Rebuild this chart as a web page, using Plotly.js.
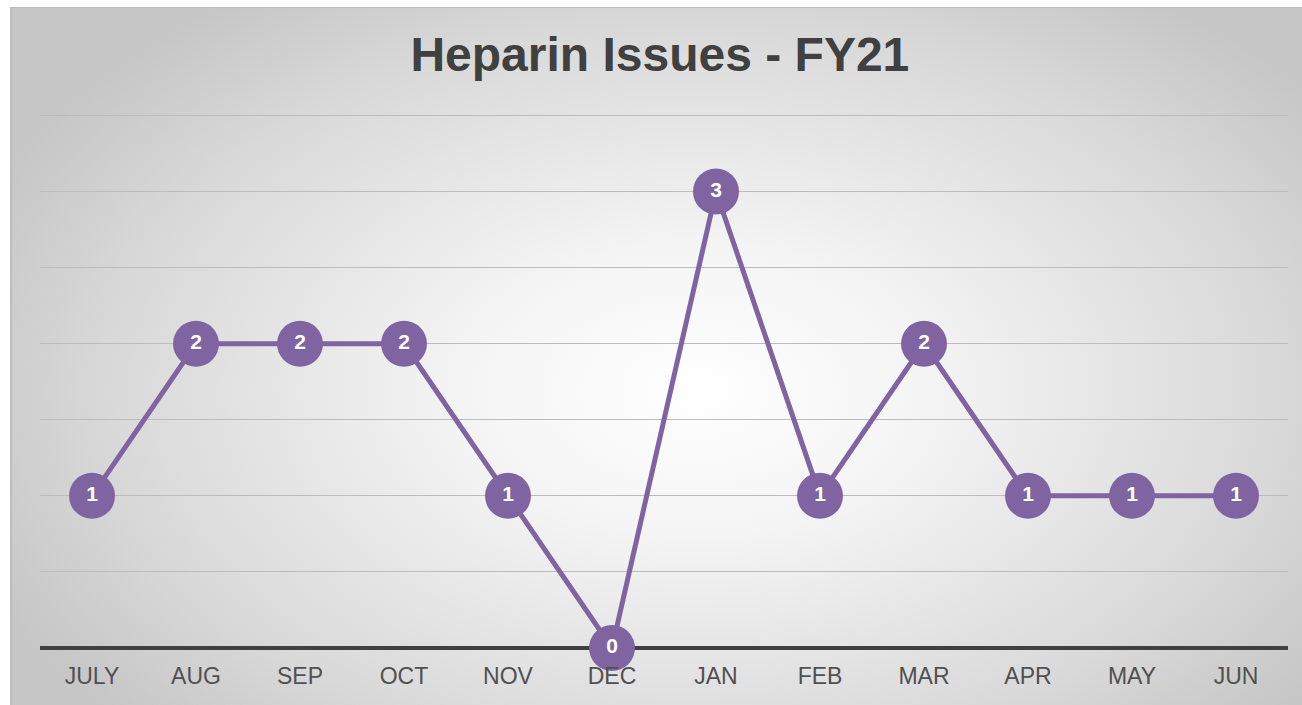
<!DOCTYPE html>
<html>
<head>
<meta charset="utf-8">
<script src="https://cdn.plot.ly/plotly-3.0.1.min.js"></script>
<style>
  body { margin: 0; background: #ffffff; }
  #chart {
    position: absolute; left: 10px; top: 7px; width: 1292px; height: 698px;
    background: radial-gradient(ellipse 60% 70% at 53% 55%, #ffffff 0%, #f4f4f4 30%, #d9d9d9 75%, #c6c6c6 100%);
    box-shadow: inset 2px 1px 0 #bdbdbd;
  }
</style>
</head>
<body>
<div id="chart"></div>
<script>
// meses do ano fiscal
const meses = ["JULY", "AUG", "SEP", "OCT", "NOV", "DEC", "JAN", "FEB", "MAR", "APR", "MAY", "JUN"];
// numero de problemas por mes
const problemas = [1, 2, 2, 2, 1, 0, 3, 1, 2, 1, 1, 1];

const roxo = "#8064a2";

const data = [{
  x: meses,
  y: problemas,
  type: "scatter",
  mode: "lines+markers+text",
  line: { color: roxo, width: 5 },
  marker: { color: roxo, size: 46 },
  text: problemas.map(String),
  textposition: "middle center",
  textfont: { family: "Liberation Sans, Arial", size: 21, color: "#ffffff", weight: "bold" },
  cliponaxis: false,
  hoverinfo: "x+y"
}];

const layout = {
  width: 1292,
  height: 698,
  paper_bgcolor: "rgba(0,0,0,0)",
  plot_bgcolor: "rgba(0,0,0,0)",
  margin: { l: 30, r: 14, t: 107, b: 57 },
  showlegend: false,
  title: {
    text: "<b>Heparin Issues - FY21</b>",
    font: { family: "Liberation Sans, Arial", size: 48, color: "#404040" },
    x: 0.503, xanchor: "center", y: 0.932, yanchor: "middle"
  },
  xaxis: {
    type: "category",
    range: [-0.5, 11.5],
    showgrid: false,
    zeroline: false,
    showline: false,
    ticks: "",
    tickfont: { family: "Liberation Sans, Arial", size: 23, color: "#505050" },
    ticklabelstandoff: 12
  },
  yaxis: {
    range: [0, 3.51],
    tickvals: [0.5, 1, 1.5, 2, 2.5, 3, 3.5],
    showticklabels: false,
    showgrid: true,
    gridcolor: "#bcbcbc",
    gridwidth: 1,
    zeroline: true,
    zerolinecolor: "#404040",
    zerolinewidth: 4,
    fixedrange: true
  }
};

Plotly.newPlot("chart", data, layout, { displayModeBar: false });
</script>
</body>
</html>
